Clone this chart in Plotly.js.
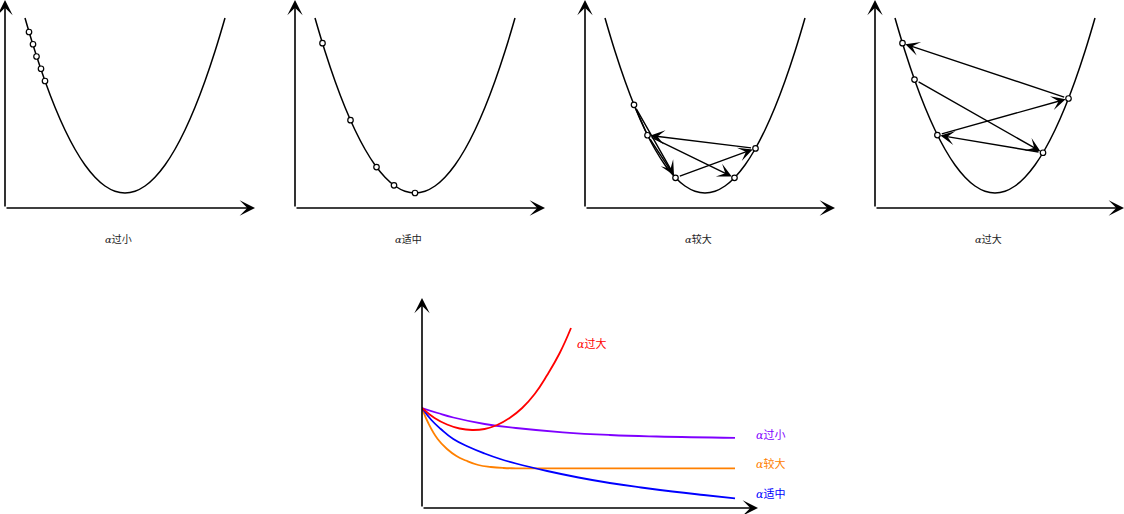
<!DOCTYPE html>
<html>
<head>
<meta charset="utf-8">
<script src="https://cdn.plot.ly/plotly-3.0.1.min.js"></script>
<style>html,body{margin:0;padding:0;background:#fff;}#chart{width:1124px;height:514px;}</style>
</head>
<body>
<div id="chart"></div>
<script>
// ---- top panels: cost curve J(θ) ----
const parabolaX = [-1,-0.9,-0.8,-0.7,-0.6,-0.5,-0.4,-0.3,-0.2,-0.1,0,0.1,0.2,0.3,0.4,0.5,0.6,0.7,0.8,0.9,1];
const parabolaY = [1,0.81,0.64,0.49,0.36,0.25,0.16,0.09,0.04,0.01,0,0.01,0.04,0.09,0.16,0.25,0.36,0.49,0.64,0.81,1];
const panelLabels = ['过小','适中','较大','过大'];

// gradient-descent iterates
const smallX = [-0.96,-0.92,-0.885,-0.84,-0.80];
const smallY = [0.92,0.85,0.78,0.71,0.64];
const goodX = [-0.925,-0.645,-0.385,-0.21,0];
const goodY = [0.856,0.416,0.148,0.044,0];
const largeX = [-0.71,-0.575,-0.295,0.295,0.505];
const largeY = [0.504,0.33,0.087,0.087,0.255];
const hugeX = [-0.925,-0.805,-0.576,0.48,0.735];
const hugeY = [0.856,0.648,0.331,0.23,0.54];
const largeSteps = [[0,2],[2,4],[4,1],[1,3]];
const largeExtra = [[0,1],[1,2]];
const hugeSteps = [[1,3],[3,2],[2,4],[4,0]];

// ---- bottom panel: cost vs iterations ----
const tooBigX = [0,4,8,12,16,20,24,28,32,36,40,44,47.6];
const tooBigY = [1.0,0.9,0.835,0.795,0.78,0.79,0.83,0.9,1.0,1.14,1.33,1.55,1.8];
const tooSmallX = [0,5,10,20,30,45,60,75,100];
const tooSmallY = [1.0,0.95,0.905,0.84,0.80,0.757,0.73,0.715,0.702];
const largerX = [0,2,5,8,11,14,18,22,26,30,100];
const largerY = [1.0,0.85,0.69,0.59,0.52,0.475,0.43,0.41,0.4,0.397,0.397];
const rightX = [0,3,6,10,15,20,25,30,40,50,60,70,80,90,100];
const rightY = [1.0,0.88,0.79,0.69,0.61,0.545,0.49,0.445,0.37,0.305,0.25,0.205,0.165,0.13,0.097];
const bottomNames = ['过大','过小','较大','适中'];
const bottomColors = ['#FF0000','#7F00FF','#FF8000','#0000FF'];

const W = 1124, H = 514;
const traces = [];
const annotations = [];
const layout = {
  width: W, height: H,
  margin: {l:0, r:0, t:0, b:0},
  paper_bgcolor: '#fff', plot_bgcolor: 'rgba(0,0,0,0)',
  showlegend: false,
  font: {family: '"Noto Sans CJK SC", "Noto Sans", sans-serif', size: 10, color: '#000'},
  annotations: annotations
};
function hiddenAxis(range, domain, anchor) {
  return {range: range, domain: domain, anchor: anchor, visible: false, fixedrange: true, showgrid: false, zeroline: false};
}
const alpha = '<span style="font-family:\'DejaVu Serif\'"><i>α</i></span>';
const AX_HEAD = {showarrow: true, arrowhead: 3, arrowsize: 1.6, arrowwidth: 1.6, arrowcolor: '#000', standoff: 0};

const ptsX = [smallX, goodX, largeX, hugeX];
const ptsY = [smallY, goodY, largeY, hugeY];
const origins = [5, 295, 585, 875];
const xMin = -1.2, yMin = -15/175, yMax = 193/175;
for (let i = 0; i < 4; i++) {
  const id = i === 0 ? '' : String(i + 1);
  const xa = 'x' + id, ya = 'y' + id;
  const left = origins[i], right = Math.min(origins[i] + 250, W);
  const xMax = xMin + (right - left) / 100;
  layout['xaxis' + id] = hiddenAxis([xMin, xMax], [left / W, right / W], ya);
  layout['yaxis' + id] = hiddenAxis([yMin, yMax], [(H - 208) / H, 1], xa);
  traces.push({x: parabolaX, y: parabolaY, xaxis: xa, yaxis: ya, mode: 'lines',
    line: {color: '#000', width: 1.5, shape: 'spline', smoothing: 1.3}, hoverinfo: 'skip'});
  annotations.push(Object.assign({xref: xa, yref: ya, axref: xa, ayref: ya, x: xMin, y: yMax, ax: xMin, ay: yMin, text: ''}, AX_HEAD));
  annotations.push(Object.assign({xref: xa, yref: ya, axref: xa, ayref: ya, x: xMax, y: yMin, ax: xMin, ay: yMin, text: ''}, AX_HEAD));
  annotations.push({xref: xa, yref: 'paper', x: -0.07, y: (H - 238) / H, text: alpha + panelLabels[i], showarrow: false,
    font: {size: 10, color: '#222'}, xanchor: 'center', yanchor: 'middle'});
}
function stepArrows(id, xs, ys, steps, head) {
  const xa = 'x' + id, ya = 'y' + id;
  steps.forEach(s => {
    annotations.push({xref: xa, yref: ya, axref: xa, ayref: ya,
      x: xs[s[1]], y: ys[s[1]], ax: xs[s[0]], ay: ys[s[0]], text: '', showarrow: true,
      arrowhead: head ? 3 : 0, arrowsize: 1.7, arrowwidth: 1.4, arrowcolor: '#000', standoff: 3, startstandoff: 3});
  });
}
stepArrows('3', largeX, largeY, largeExtra, false);
stepArrows('3', largeX, largeY, largeSteps, true);
stepArrows('4', hugeX, hugeY, hugeSteps, true);
for (let i = 0; i < 4; i++) {
  const id = i === 0 ? '' : String(i + 1);
  traces.push({x: ptsX[i], y: ptsY[i], xaxis: 'x' + id, yaxis: 'y' + id, mode: 'markers',
    marker: {symbol: 'circle', size: 5.5, color: '#fff', line: {color: '#000', width: 1.2}}, hoverinfo: 'skip', cliponaxis: false});
}

// bottom panel
const bLeft = 422, bRight = 758, bBottom = 508, bTop = 298;
const bxMax = (bRight - bLeft) / 3.13, byMax = (bBottom - bTop) / 100;
layout.xaxis5 = hiddenAxis([0, bxMax], [bLeft / W, bRight / W], 'y5');
layout.yaxis5 = hiddenAxis([0, byMax], [(H - bBottom) / H, (H - bTop) / H], 'x5');
const bxs = [tooBigX, tooSmallX, largerX, rightX];
const bys = [tooBigY, tooSmallY, largerY, rightY];
[1, 2, 3, 0].forEach(k => {
  traces.push({x: bxs[k], y: bys[k], xaxis: 'x5', yaxis: 'y5', mode: 'lines',
    line: {color: bottomColors[k], width: 1.8, shape: 'spline', smoothing: 1.3}, hoverinfo: 'skip', cliponaxis: false});
});
annotations.push(Object.assign({xref: 'x5', yref: 'y5', axref: 'x5', ayref: 'y5', x: 0, y: byMax, ax: 0, ay: 0, text: ''}, AX_HEAD));
annotations.push(Object.assign({xref: 'x5', yref: 'y5', axref: 'x5', ayref: 'y5', x: bxMax, y: 0, ax: 0, ay: 0, text: ''}, AX_HEAD));
const labX = [48.9, 106.1, 106.1, 106.1];
const labY = [1.65, 0.74, 0.445, 0.15];
for (let k = 0; k < 4; k++) {
  annotations.push({xref: 'x5', yref: 'y5', x: labX[k], y: labY[k], text: alpha + bottomNames[k], showarrow: false,
    xanchor: 'left', yanchor: 'middle', font: {size: 11, color: bottomColors[k]}});
}

Plotly.newPlot('chart', traces, layout, {displayModeBar: false, staticPlot: true});
</script>
</body>
</html>
